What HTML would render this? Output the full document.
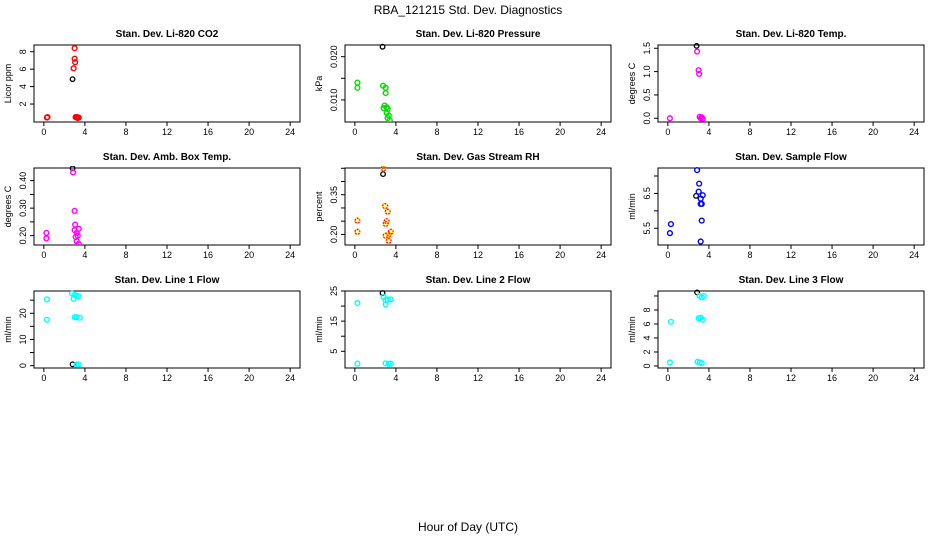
<!DOCTYPE html>
<html><head><meta charset="utf-8"><style>
body{margin:0;background:#fff;}
svg text{font-family:"Liberation Sans",sans-serif;}
</style></head><body>
<svg id="chart" width="936" height="540" xmlns="http://www.w3.org/2000/svg">
<text x="468" y="14" text-anchor="middle" font-size="12">RBA_121215  Std. Dev. Diagnostics</text>
<text x="468" y="531" text-anchor="middle" font-size="12">Hour of Day (UTC)</text>
</svg>
<script>
const xTicks = [0,4,8,12,16,20,24];
// Panel 1: CO2
const co2Hours = [0.3,0.35,2.9,3.0,3.05,3.0,3.1,3.2,3.3,3.4,3.25];
const co2Values = [0.45,0.5,6.1,7.2,6.8,8.4,0.5,0.45,0.4,0.45,0.5];
const co2RefHours = [2.8];
const co2RefValues = [4.85];
// Panel 2: Pressure
const presHours = [0.25,0.25,2.75,3.0,3.0,2.9,3.1,2.8,3.2,3.1,3.3,3.2,3.4];
const presValues = [0.0140,0.0128,0.0133,0.0128,0.0116,0.0087,0.0083,0.0081,0.0079,0.0070,0.0064,0.0058,0.0053];
const presRefHours = [2.7];
const presRefValues = [0.0223];
// Panel 3: Li-820 Temp
const tempHours = [0.2,2.85,3.0,3.05,3.1,3.2,3.4,3.3];
const tempValues = [0.0,1.43,1.03,0.95,0.03,0.0,-0.01,0.02];
const tempRefHours = [2.8];
const tempRefValues = [1.55];
// Panel 4: Amb Box Temp
const ambHours = [2.85,3.0,3.05,0.25,0.25,3.0,3.2,3.4,3.1,3.2,3.4,3.3];
const ambValues = [0.43,0.29,0.24,0.21,0.19,0.22,0.21,0.225,0.195,0.18,0.17,0.2];
const ambRefHours = [2.8];
const ambRefValues = [0.445];
// Panel 5: Gas Stream RH
const rhHours = [2.8,2.95,3.2,0.25,3.1,3.0,0.25,3.5,3.3,3.0,3.3];
const rhValues = [0.45,0.307,0.286,0.252,0.25,0.24,0.21,0.21,0.20,0.195,0.176];
const rhRefHours = [2.75];
const rhRefValues = [0.428];
// Panel 6: Sample Flow
const sfHours = [2.85,3.05,3.0,3.4,3.2,3.2,3.3,3.3,0.3,0.2,3.2];
const sfValues = [7.17,6.78,6.55,6.45,6.35,6.2,6.2,5.72,5.62,5.36,5.12];
const sfRefHours = [2.75];
const sfRefValues = [6.43];
// Panel 7: Line 1 Flow
const l1Hours = [2.75,3.0,3.2,3.4,2.9,0.3,0.3,3.0,3.2,3.5,3.2,3.4];
const l1Values = [27.5,27,26.5,26.5,25.5,25.3,17.5,18.5,18.5,18.3,0.4,0.4];
const l1RefHours = [2.8];
const l1RefValues = [0.5];
// Panel 8: Line 2 Flow
const l2Hours = [2.8,3.0,3.2,3.5,0.25,3.0,0.25,3.0,3.3,3.5];
const l2Values = [23,22,22.2,22.2,21,20.6,0.9,1,0.8,0.9];
const l2RefHours = [2.7];
const l2RefValues = [24.3];
// Panel 9: Line 3 Flow
const l3Hours = [3.1,3.3,3.5,0.3,3.0,3.2,3.4,0.2,2.9,3.1,3.3];
const l3Values = [10,9.8,10,6.3,6.8,6.9,6.6,0.5,0.6,0.5,0.4];
const l3RefHours = [2.85];
const l3RefValues = [10.5];

const panels = [
 {name:'co2',title:'Stan. Dev. Li-820 CO2',ylab:'Licor ppm',col:0,row:0,ylim:[-0.06,8.77],ticks:[2,4,6,8],labels:['2','4','6','8'],color:'#ff0000',h:co2Hours,v:co2Values,rh:co2RefHours,rv:co2RefValues},
 {name:'pressure',title:'Stan. Dev. Li-820 Pressure',ylab:'kPa',col:1,row:0,ylim:[0.0049,0.0227],ticks:[0.010,0.015,0.020],labels:['0.010','','0.020'],color:'#00dd00',h:presHours,v:presValues,rh:presRefHours,rv:presRefValues},
 {name:'li820-temp',title:'Stan. Dev. Li-820 Temp.',ylab:'degrees C',col:2,row:0,ylim:[-0.08,1.57],ticks:[0,0.5,1,1.5],labels:['0.0','0.5','1.0','1.5'],color:'#ff00ff',h:tempHours,v:tempValues,rh:tempRefHours,rv:tempRefValues},
 {name:'amb-box-temp',title:'Stan. Dev. Amb. Box Temp.',ylab:'degrees C',col:0,row:1,ylim:[0.166,0.446],ticks:[0.2,0.25,0.3,0.35,0.4],labels:['0.20','','0.30','','0.40'],color:'#ff00ff',h:ambHours,v:ambValues,rh:ambRefHours,rv:ambRefValues},
 {name:'gas-rh',title:'Stan. Dev. Gas Stream RH',ylab:'percent',col:1,row:1,ylim:[0.16,0.451],ticks:[0.2,0.25,0.3,0.35,0.4,0.45],labels:['0.20','','','0.35','',''],color:'#ff0000',dash:'#ffee00',h:rhHours,v:rhValues,rh:rhRefHours,rv:rhRefValues},
 {name:'sample-flow',title:'Stan. Dev. Sample Flow',ylab:'ml/min',col:2,row:1,ylim:[5.02,7.23],ticks:[5.5,6,6.5,7],labels:['5.5','','6.5',''],color:'#0000ff',h:sfHours,v:sfValues,rh:sfRefHours,rv:sfRefValues},
 {name:'line1-flow',title:'Stan. Dev. Line 1 Flow',ylab:'ml/min',col:0,row:2,ylim:[-0.9,28.5],ticks:[0,5,10,15,20,25],labels:['0','','10','','20',''],color:'#00ffff',h:l1Hours,v:l1Values,rh:l1RefHours,rv:l1RefValues},
 {name:'line2-flow',title:'Stan. Dev. Line 2 Flow',ylab:'ml/min',col:1,row:2,ylim:[-0.54,25.0],ticks:[5,10,15,20,25],labels:['5','','15','','25'],color:'#00ffff',h:l2Hours,v:l2Values,rh:l2RefHours,rv:l2RefValues},
 {name:'line3-flow',title:'Stan. Dev. Line 3 Flow',ylab:'ml/min',col:2,row:2,ylim:[-0.29,10.71],ticks:[0,2,4,6,8,10],labels:['0','2','4','6','8',''],color:'#00ffff',h:l3Hours,v:l3Values,rh:l3RefHours,rv:l3RefValues}
];
const colLeft=[34,345,658], plotW=266, rowTop=[45,168,291], plotH=77;
const svg=document.getElementById('chart');
const NS='http://www.w3.org/2000/svg';
function mk(tag,attrs,parent){const e=document.createElementNS(NS,tag);for(const k in attrs)e.setAttribute(k,attrs[k]);parent.appendChild(e);return e;}
panels.forEach(p=>{
  const L=colLeft[p.col],T=rowTop[p.row],R=L+plotW,B=T+plotH;
  const xs=h=>L+(h+0.96)/25.92*plotW;
  const ys=v=>B-(v-p.ylim[0])/(p.ylim[1]-p.ylim[0])*plotH;
  const g=mk('g',{},svg);
  
  
  const t=mk('text',{x:(L+R)/2,y:T-8,'text-anchor':'middle','font-size':'10','font-weight':'bold'},g);
  t.textContent=p.title;
  
  
  const box=mk('rect',{x:L,y:T,width:plotW,height:plotH,fill:'none',stroke:'#000','stroke-width':'1'},g);
  
  
  const yl=mk('text',{x:0,y:0,'text-anchor':'middle','font-size':'9',transform:`translate(${L-23},${(T+B)/2}) rotate(-90)`},g);
  yl.textContent=p.ylab;
  
  
  p.ticks.forEach((tv,i)=>{
    const y=ys(tv);
    const tk=mk('line',{x1:L-4,x2:L,y1:y,y2:y,stroke:'#000'},g);
    
    
    if(p.labels[i]){
      const tl=mk('text',{x:0,y:0,'text-anchor':'middle','font-size':'9',transform:`translate(${L-8},${y}) rotate(-90)`},g);
      tl.textContent=p.labels[i];
      
      
    }
  });
  xTicks.forEach(xv=>{
    const x=xs(xv);
    const tk=mk('line',{x1:x,x2:x,y1:B,y2:B+4,stroke:'#000'},g);
    
    
    const tl=mk('text',{x:x,y:B+13,'text-anchor':'middle','font-size':'9'},g);
    tl.textContent=String(xv);
    
    
  });
  const cid='clip-'+p.name;
  const cp=mk('clipPath',{id:cid},g);
  mk('rect',{x:L,y:T-2,width:plotW,height:plotH+2},cp);
  const pg=mk('g',{'clip-path':`url(#${cid})`},g);
  p.rh.forEach((h,i)=>{
    const c=mk('circle',{cx:xs(h),cy:ys(p.rv[i]),r:2.3,fill:'none',stroke:'#000','stroke-width':'1.3'},pg);
    
    
  });
  p.h.forEach((h,i)=>{
    const c=mk('circle',{cx:xs(h),cy:ys(p.v[i]),r:2.4,fill:'none',stroke:p.color,'stroke-width':'1.4'},pg);
    
    
    if(p.dash){mk('circle',{cx:xs(h),cy:ys(p.v[i]),r:2.4,fill:'none',stroke:p.dash,'stroke-width':'1.4','stroke-dasharray':'1.5 1.5'},pg);}
  });
});
</script>
</body></html>
